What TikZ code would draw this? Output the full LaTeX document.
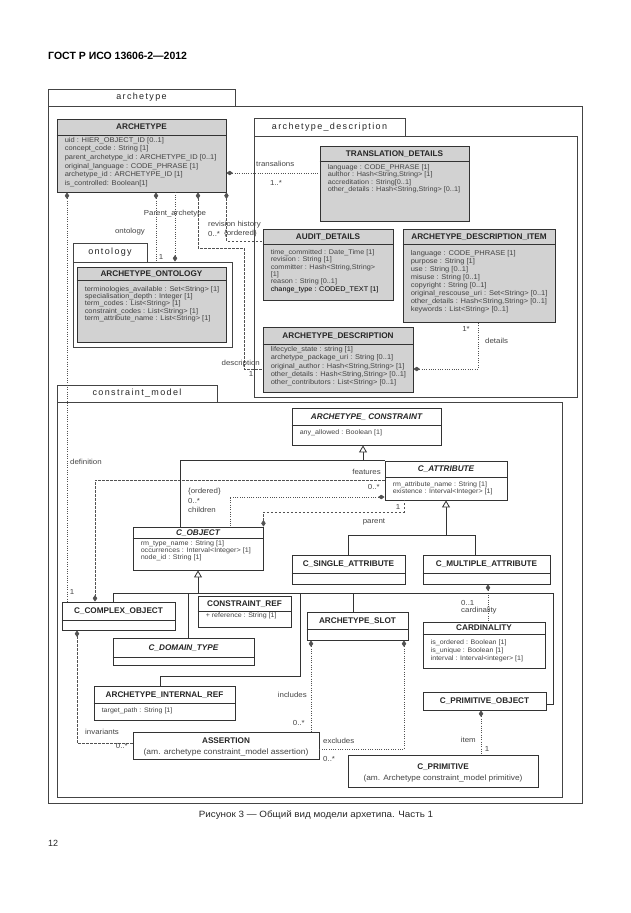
\documentclass[tikz,border=0pt]{standalone}
\usepackage{fontspec}
\setmainfont{Liberation Sans}
\newfontfamily\af[FakeStretch=1.08]{Liberation Sans}
\newfontfamily\tabf[LetterSpace=15]{Liberation Sans}
\usetikzlibrary{arrows.meta,calc,fit}
\definecolor{clsgray}{HTML}{D2D2D2}
\definecolor{ln}{HTML}{333333}
\definecolor{txt}{HTML}{444444}
\definecolor{frmc}{HTML}{444444}
\tikzset{
  clsbox/.style={draw=ln, line width=0.9pt, inner sep=0pt},
  clsline/.style={draw=ln, line width=0.9pt},
  hdr/.style={font=\fontsize{8.2}{9}\selectfont\bfseries, text=black!85, inner sep=0pt, text height=5.8pt, text depth=0pt},
  attr/.style={text=txt, align=left, inner sep=0pt, anchor=north west},
  lbl/.style={font=\af\fontsize{7.3}{8}\selectfont, text=txt, inner sep=0pt},
  frmbox/.style={draw=frmc, line width=0.9pt, inner sep=0pt},
  tabl/.style={font=\tabf\fontsize{9}{10}\selectfont, text=black!85, inner sep=0pt},
  dotl/.style={draw=ln!85, line width=0.7pt, dash pattern=on 1pt off 1.3pt},
  dashl/.style={draw=ln!85, line width=0.7pt, dash pattern=on 2.5pt off 1.5pt},
  gen/.style={draw=ln, line width=0.8pt},
  dstart/.style={{Diamond[length=6.5pt,width=4.5pt]}-},
  dend/.style={-{Diamond[length=6.5pt,width=4.5pt]}},
  tri/.style={-{Triangle[length=7pt,width=8pt,fill=white]}},
}
\newcommand\cls[8]{%
  \node[clsbox, fill=#5, fit={(#2)(#3)}] (#1) {};
  \draw[clsline] (#1.west |- 0,#4) -- (#1.east |- 0,#4);
  \node[hdr] at ($(#1.north)!0.5!(#1.north |- 0,#4)$) {#6};
  \node[attr, #8] at ($(#1.west |- 0,#4)+(8,0)$) {#7};
}
\begin{document}
\begin{tikzpicture}[x=1pt,y=-1pt]
\useasboundingbox (0,0) rectangle (630,913);
\fill[white] (0,0) rectangle (630,913);

% page header
\node[anchor=west, inner sep=0pt, font=\fontsize{10.5}{12}\selectfont\bfseries] (gost) at (48,55.5) {ГОСТ Р ИСО 13606-2—2012};

% packages
\node[frmbox, fit={(48,89)(235,106)}] (archtab) {};
\node[tabl] at (archtab) {archetype};
\node[frmbox, fit={(48,106)(582,803)}] (archfr) {};
\node[frmbox, fit={(254,118)(405,136)}] (desctab) {};
\node[tabl] at (desctab) {archetype\_description};
\node[frmbox, fit={(254,136)(577,397)}] (descfr) {};
\node[frmbox, fit={(73,243)(147,262)}] (ontotab) {};
\node[tabl] at (ontotab) {ontology};
\node[frmbox, fit={(73,262)(232,347)}] (ontofr) {};
\node[frmbox, fit={(57,385)(217,402)}] (cmtab) {};
\node[tabl] at (cmtab) {constraint\_model};
\node[frmbox, fit={(57,402)(562,797)}] (cmfr) {};

% archetype package classes
\cls{arch}{57,119}{226,192}{135}{clsgray}{ARCHETYPE}{uid : HIER\_OBJECT\_ID [0..1]\\concept\_code : String [1]\\parent\_archetype\_id : ARCHETYPE\_ID [0..1]\\original\_language : CODE\_PHRASE [1]\\archetype\_id : ARCHETYPE\_ID [1]\\is\_controlled: Boolean[1]}{font=\af\fontsize{6.95}{8.6}\selectfont, yshift=-2pt}
\cls{trans}{320,146}{469,221}{161}{clsgray}{TRANSLATION\_DETAILS}{language : CODE\_PHRASE [1]\\aulthor : Hash<String,String> [1]\\accreditation : String[0..1]\\other\_details : Hash<String,String> [0..1]}{font=\af\fontsize{6.75}{7.4}\selectfont, yshift=-3.5pt}
\cls{audit}{263,229}{393,300}{244}{clsgray}{AUDIT\_DETAILS}{time\_committed : Date\_Time [1]\\revision : String [1]\\committer : Hash<String,String>\\{[1]}\\reason : String [0..1]\\\textcolor{black}{change\_type : CODED\_TEXT [1]}}{font=\af\fontsize{6.75}{7.3}\selectfont, yshift=-5.5pt}
\cls{adi}{403,229}{555,322}{244}{clsgray}{ARCHETYPE\_DESCRIPTION\_ITEM}{language : CODE\_PHRASE [1]\\purpose : String [1]\\use : String [0..1]\\misuse : String [0..1]\\copyright : String [0..1]\\original\_rescouse\_uri : Set<String> [0..1]\\other\_details : Hash<String,String> [0..1]\\keywords : List<String> [0..1]}{font=\af\fontsize{6.95}{8.1}\selectfont, yshift=-6pt}
\cls{ardesc}{263,327}{413,392}{344}{clsgray}{ARCHETYPE\_DESCRIPTION}{lifecycle\_state : string [1]\\archetype\_package\_uri : String [0..1]\\original\_author : Hash<String,String> [1]\\other\_details : Hash<String,String> [0..1]\\other\_contributors : List<String> [0..1]}{font=\af\fontsize{6.9}{8.2}\selectfont, yshift=-2.5pt}
\cls{onto}{77,267}{226,342}{280}{clsgray}{ARCHETYPE\_ONTOLOGY}{terminologies\_available : Set<String> [1]\\specialisation\_depth : Integer [1]\\term\_codes : List<String> [1]\\constraint\_codes : List<String> [1]\\term\_attribute\_name : List<String> [1]}{font=\af\fontsize{6.9}{7.3}\selectfont, yshift=-6pt}

% constraint model classes
\cls{ac}{292,408}{441,445}{425}{white}{\itshape ARCHETYPE\_ CONSTRAINT}{any\_allowed : Boolean [1]}{font=\af\fontsize{6.6}{7.5}\selectfont, yshift=-4.5pt}
\cls{cattr}{385,461}{507,500}{477}{white}{\itshape C\_ATTRIBUTE}{rm\_attribute\_name : String [1]\\existence : Interval<Integer> [1]}{font=\af\fontsize{6.55}{7.3}\selectfont, yshift=-4.2pt}
\cls{cobj}{133,527}{263,570}{538}{white}{\itshape C\_OBJECT}{rm\_type\_name : String [1]\\occurrences : Interval<Integer> [1]\\node\_id : String [1]}{font=\af\fontsize{6.65}{7}\selectfont, yshift=-2.5pt}
\cls{csingle}{292,555}{405,584}{573}{white}{C\_SINGLE\_ATTRIBUTE}{}{}
\cls{cmulti}{423,555}{550,584}{573}{white}{C\_MULTIPLE\_ATTRIBUTE}{}{}
\cls{ccomplex}{62,602}{175,630}{620}{white}{C\_COMPLEX\_OBJECT}{}{}
\cls{cref}{198,596}{291,627}{611}{white}{CONSTRAINT\_REF}{+ reference : String [1]}{font=\af\fontsize{6.55}{7.5}\selectfont, yshift=-1.8pt}
\cls{cdomain}{113,638}{254,665}{657}{white}{\itshape C\_DOMAIN\_TYPE}{}{}
\cls{slot}{307,612}{408,640}{629}{white}{ARCHETYPE\_SLOT}{}{}
\cls{card}{423,622}{545,668}{634}{white}{CARDINALITY}{is\_ordered : Boolean [1]\\is\_unique : Boolean [1]\\interval : Interval<integer> [1]}{font=\af\fontsize{6.55}{8}\selectfont, yshift=-5.3pt}
\cls{air}{94,686}{235,720}{703}{white}{ARCHETYPE\_INTERNAL\_REF}{target\_path : String [1]}{font=\af\fontsize{6.55}{7.5}\selectfont, yshift=-4.3pt}

\node[clsbox, fill=white, fit={(423,692)(546,710)}] (cprimobj) {};
\node[hdr] at (cprimobj) {C\_PRIMITIVE\_OBJECT};
\node[clsbox, fill=white, fit={(133,732)(319,759)}] (assertion) {};
\node[hdr] at ($(assertion.north)+(0,9.5)$) {ASSERTION};
\node[inner sep=0pt, text=txt, font=\af\fontsize{7.9}{9}\selectfont] at ($(assertion.north)+(0,20.5)$) {(am. archetype constraint\_model assertion)};
\node[clsbox, fill=white, fit={(348,755)(538,787)}] (cprim) {};
\node[hdr] at ($(cprim.north)+(0,12)$) {C\_PRIMITIVE};
\node[inner sep=0pt, text=txt, font=\af\fontsize{7.7}{9}\selectfont] at ($(cprim.north)+(0,24)$) {(am. Archetype constraint\_model primitive)};

% associations in archetype package
\draw[dotl, dstart] (arch.east |- 0,173) -- (trans.west |- 0,173);
\draw[dotl, dstart] (arch.south -| 67,0) -- (ccomplex.north -| 67,0);
\draw[dotl, dstart] (arch.south -| 156,0) -- (ontofr.north -| 156,0);
\draw[dotl, dend] (arch.south -| 175,0) -- (ontofr.north -| 175,0);
\draw[dashl, dstart] (arch.south -| 198,0) |- (244,248) |- (ardesc.west |- 0,369);
\draw[dashl, dstart] (arch.south east) |- (audit.west |- 0,241);
\draw[dotl, dstart] (ardesc.east |- 0,369) -| (adi.south -| 478,0);

% constraint model associations
\draw[dashl, dend] (cattr.west |- 0,480) -| (ccomplex.north -| 95,0);
\draw[dotl, dstart] (cattr.west |- 0,497) -| (cobj.north -| 230,0);
\draw[dashl, dstart] (cobj.north east) |- (404,512) -- (cattr.south -| 404,0);
\draw[dotl, dstart] (cmulti.south -| 488,0) -- (card.north -| 488,0);
\draw[dotl, dstart] (slot.south -| 311,0) -- (assertion.north -| 311,0);
\draw[dotl, dstart] (slot.south -| 404,0) |- (assertion.east |- 0,749);
\draw[dashl, dstart] (ccomplex.south -| 77,0) |- (assertion.west |- 0,743);
\draw[dotl, dstart] (cprimobj.south -| 481,0) -- (cprim.north -| 481,0);

% generalizations
\draw[gen] (cobj.north -| 180,0) |- (cattr.north west);
\draw[gen, tri] (cattr.north west -| 363,0) -- (ac.south -| 363,0);
\draw[gen] (csingle.north -| 348,0) |- (475,535) -- (cmulti.north -| 475,0);
\draw[gen, tri] (446,535) -- (cattr.south -| 446,0);
\draw[gen, tri] (198,593) -- (cobj.south -| 198,0);
\draw[gen] (ccomplex.north -| 113,0) |- (553,593) |- (cprimobj.east |- 0,704);
\draw[gen] (188,593) -- (cdomain.north -| 188,0);
\draw[gen] (300,593) |- (160,676) -- (air.north -| 160,0);
\draw[gen] (353,593) -- (slot.north -| 353,0);

% labels
\node[lbl, anchor=west] at (256,164) {transalions};
\node[lbl] at (276,183) {1..*};
\node[lbl] at (175,214) {Parent\_archetype};
\node[lbl] at (130,232) {ontology};
\node[lbl] at (161,257) {1};
\node[lbl, anchor=west] at (208,225) {revision history};
\node[lbl, anchor=west] at (208,234) {0..*};
\node[lbl, anchor=west] at (224,234) {\{ordered\}};
\node[lbl, anchor=east] at (260,364) {description};
\node[lbl] at (251,374) {1};
\node[lbl] at (466,329) {1*};
\node[lbl, anchor=west] at (485,341) {details};
\node[lbl, anchor=west] at (70,462) {definition};
\node[lbl, anchor=east] at (381,472) {features};
\node[lbl, anchor=east] at (380,487) {0..*};
\node[lbl, anchor=west] at (188,492) {\{ordered\}};
\node[lbl, anchor=west] at (188,501) {0..*};
\node[lbl, anchor=west] at (188,510) {children};
\node[lbl] at (398,507) {1};
\node[lbl] at (374,522) {parent};
\node[lbl] at (72,592) {1};
\node[lbl, anchor=west] at (461,603) {0..1};
\node[lbl, anchor=west] at (461,611) {cardinality};
\node[lbl, anchor=east] at (307,695) {includes};
\node[lbl, anchor=east] at (305,723) {0..*};
\node[lbl, anchor=west] at (85,732) {invariants};
\node[lbl, anchor=east] at (128,746) {0..*};
\node[lbl, anchor=west] at (323,741) {excludes};
\node[lbl, anchor=west] at (323,759) {0..*};
\node[lbl, anchor=east] at (476,740) {item};
\node[lbl] at (487,749) {1};

% caption
\node[inner sep=0pt, font=\af\fontsize{9.1}{10}\selectfont, text=black!85] (cap) at (316,815) {Рисунок 3 — Общий вид модели архетипа. Часть 1};
\node[anchor=west, inner sep=0pt, font=\fontsize{9}{10}\selectfont, text=black!85] (pg) at (48,843) {12};
\end{tikzpicture}
\end{document}
